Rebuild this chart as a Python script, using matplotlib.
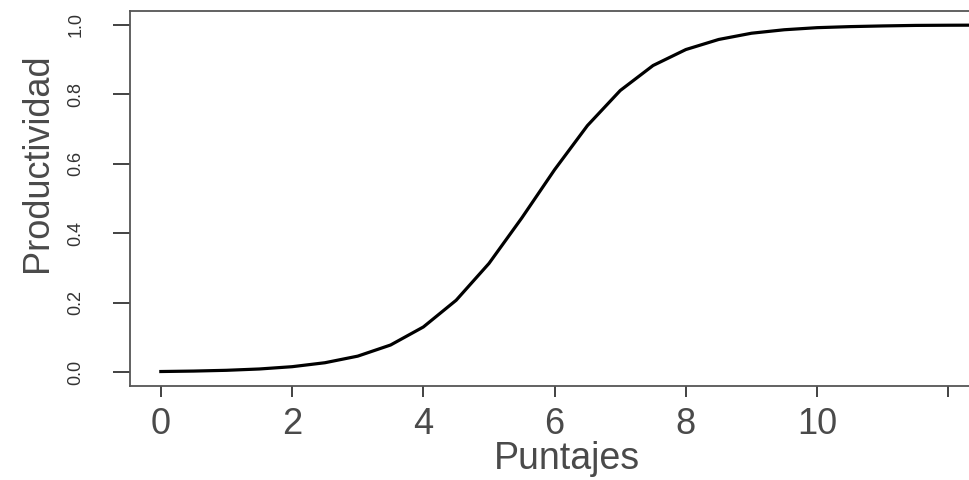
import matplotlib
matplotlib.use("Agg")
import matplotlib.pyplot as plt

# values
puntajes = [0.0, 0.5, 1.0, 1.5, 2.0, 2.5, 3.0, 3.5, 4.0, 4.5, 5.0, 5.5,
            6.0, 6.5, 7.0, 7.5, 8.0, 8.5, 9.0, 9.5, 10.0, 10.5, 11.0, 11.5,
            12.0, 12.5]
productividad = [0.0017, 0.0030, 0.0052, 0.0090, 0.0156, 0.027, 0.046, 0.078,
                 0.130, 0.207, 0.313, 0.444, 0.583, 0.710, 0.811, 0.883,
                 0.929, 0.958, 0.976, 0.986, 0.992, 0.995, 0.997, 0.9985,
                 0.999, 0.9993]
x_ticks = [0, 2, 4, 6, 8, 10, 12]
x_labels = ["0", "2", "4", "6", "8", "10", ""]  # 12 is cut off at the edge
y_ticks = [0.0, 0.2, 0.4, 0.6, 0.8, 1.0]

plt.rcParams["font.family"] = ["Liberation Sans", "DejaVu Sans"]

fig = plt.figure(figsize=(9.7, 4.8), dpi=100)
# plot box runs past the right edge of the picture
ax = fig.add_axes([130 / 970, 94 / 480, 884 / 970, 375 / 480])

ax.plot(puntajes, productividad, color="black", linewidth=2.3)

ax.set_xlim(-0.47, 13.0)
ax.set_ylim(-0.04, 1.04)

ax.set_xticks(x_ticks)
ax.set_xticklabels(x_labels)
ax.set_yticks(y_ticks)
ax.set_yticklabels(["%.1f" % t for t in y_ticks], rotation=90, va="center")

ax.tick_params(axis="x", length=8, width=1.2, color="#222222", pad=7,
               labelsize=26, labelcolor="#4a4a4a")
ax.tick_params(axis="y", length=12, width=1.2, color="#222222", pad=21,
               labelsize=13, labelcolor="#333333")

for side in ["left", "bottom", "top", "right"]:
    ax.spines[side].set_color("#555555")
    ax.spines[side].set_linewidth(1.3)

fig.text(567 / 970, 11 / 480, "Puntajes", fontsize=27, color="#4a4a4a",
         ha="center", va="baseline")
fig.text(47 / 970, 1 - 163 / 480, "Productividad", fontsize=26,
         color="#4a4a4a", rotation=90, rotation_mode="anchor",
         ha="center", va="baseline")

fig.savefig("out.png", dpi=100)
